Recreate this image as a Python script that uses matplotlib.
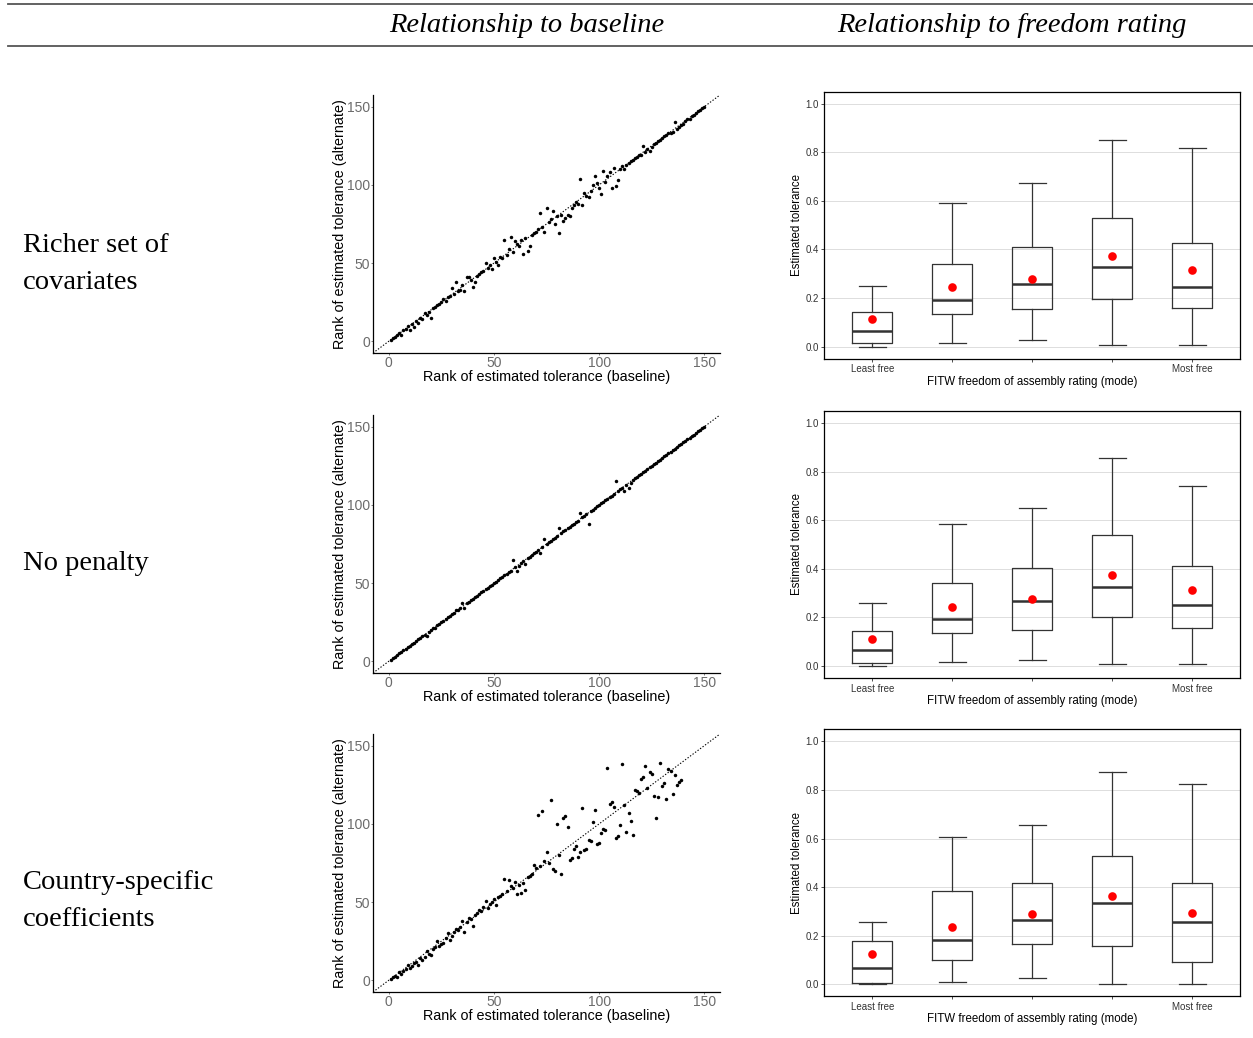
import matplotlib
matplotlib.use("Agg")
import matplotlib.pyplot as plt

# ---------------- data ----------------
ranks_150 = [1, 2, 3, 4, 5, 6, 7, 8, 9, 10, 11, 12, 13, 14, 15, 16, 17, 18, 19, 20,
             21, 22, 23, 24, 25, 26, 27, 28, 29, 30, 31, 32, 33, 34, 35, 36, 37, 38, 39, 40,
             41, 42, 43, 44, 45, 46, 47, 48, 49, 50, 51, 52, 53, 54, 55, 56, 57, 58, 59, 60,
             61, 62, 63, 64, 65, 66, 67, 68, 69, 70, 71, 72, 73, 74, 75, 76, 77, 78, 79, 80,
             81, 82, 83, 84, 85, 86, 87, 88, 89, 90, 91, 92, 93, 94, 95, 96, 97, 98, 99, 100,
             101, 102, 103, 104, 105, 106, 107, 108, 109, 110, 111, 112, 113, 114, 115, 116, 117, 118, 119, 120,
             121, 122, 123, 124, 125, 126, 127, 128, 129, 130, 131, 132, 133, 134, 135, 136, 137, 138, 139, 140,
             141, 142, 143, 144, 145, 146, 147, 148, 149, 150]

rich_base = ranks_150
rich_alt = [1, 2, 3, 4, 5, 4, 7, 8, 10, 7, 11, 9, 13, 12, 15, 14, 18, 17, 19, 15,
            21, 22, 23, 24, 25, 27,
            26, 28, 29, 34, 30, 38, 32, 33, 36, 32, 41, 41, 39, 35, 38, 42, 43, 44,
            45, 50, 47, 49, 46, 53, 51, 49, 54, 53, 65, 55, 59, 67, 57, 64, 62, 61, 65, 56, 66, 58, 61, 68, 69, 70,
            72, 82, 73, 70, 85, 76, 78, 83, 75, 80, 69, 81, 77, 79, 81, 80, 85, 87, 89, 88,
            104, 87, 95, 93, 92, 96, 100, 106, 101, 98, 94, 109, 102, 106, 108, 98, 111, 99, 103, 110, 112, 110,
            113, 114, 115, 116, 117, 118, 119, 119, 125, 121, 123, 122, 124, 126, 127, 128, 129, 130, 131, 132,
            133, 133, 134, 140, 136, 137, 138, 139, 141, 142, 142, 144, 145, 146, 147, 148, 149, 150]

nopen_base = ranks_150
nopen_alt = [1, 2, 3, 4, 5, 6, 7, 8, 9, 10,
             11, 12, 13, 14, 15, 16, 17, 16, 19, 20,
             21, 21, 23, 24, 25, 26, 27, 28, 29, 30,
             31, 33, 33, 34, 37, 34, 37, 38, 39, 40,
             41, 42, 43, 44, 45, 46, 47, 48, 49, 50,
             51, 52, 53, 54, 55, 56, 57, 58, 65, 60,
             58, 61, 63, 64, 62, 66, 67, 68, 69, 70,
             71, 69, 73, 78, 75, 76, 77, 78, 79, 80,
             85, 82, 83, 84, 85, 86, 87, 88, 89, 90,
             95, 92, 93, 94, 88, 96, 97, 98, 99, 100,
             101, 102, 103, 104, 105, 106, 107, 115, 109, 110,
             111, 109, 113, 111, 114, 116, 117, 118, 119, 120,
             121, 122, 123, 124, 125, 126, 127, 128, 129, 130,
             131, 132, 133, 134, 135, 136, 137, 138, 139, 140,
             141, 142, 143, 144, 145, 146, 147, 148, 149, 150]

country_base = ranks_150[:139]
country_alt = [1, 2, 3, 2, 5, 4, 6, 7, 10, 8,
               9, 11, 12, 10, 14, 13, 15, 19, 17, 16,
               20, 21, 25, 22, 23, 24, 27, 30, 26, 28,
               31, 33, 32, 34, 38, 31, 37, 40, 39, 35,
               42, 43, 45, 44, 47, 51, 46, 49, 50, 52,
               48, 53, 54, 55,
               65, 57, 64, 60, 59, 63,
               55, 61, 56, 62, 58, 66, 67, 68, 74, 72,
               106, 73, 108, 76, 82, 75, 115, 71, 70, 100,
               80, 68, 104, 105, 98, 77, 78, 84, 86, 79,
               82, 110, 83, 84, 90, 89, 101, 109, 87, 88,
               94, 97, 96, 136, 113, 114, 111, 91, 92, 99,
               138, 112, 95, 107, 102, 93, 122, 121, 120, 129,
               130, 137, 123, 133, 132, 118, 104, 117, 139, 124,
               126, 116, 135, 134, 119, 131, 125, 127, 128]

freedom_labels = ["Least free", "", "", "", "Most free"]

rich_lo = [0.000, 0.016, 0.026, 0.008, 0.008]
rich_q1 = [0.015, 0.136, 0.155, 0.196, 0.160]
rich_med = [0.063, 0.192, 0.259, 0.326, 0.246]
rich_q3 = [0.144, 0.340, 0.409, 0.530, 0.427]
rich_hi = [0.250, 0.591, 0.675, 0.849, 0.816]
rich_mean = [0.112, 0.244, 0.278, 0.372, 0.317]

nopen_lo = [0.000, 0.016, 0.026, 0.008, 0.008]
nopen_q1 = [0.010, 0.136, 0.147, 0.200, 0.158]
nopen_med = [0.064, 0.192, 0.266, 0.325, 0.251]
nopen_q3 = [0.144, 0.343, 0.403, 0.540, 0.410]
nopen_hi = [0.259, 0.583, 0.649, 0.857, 0.741]
nopen_mean = [0.111, 0.243, 0.277, 0.373, 0.314]

country_lo = [0.000, 0.008, 0.025, 0.000, 0.000]
country_q1 = [0.003, 0.100, 0.166, 0.158, 0.092]
country_med = [0.067, 0.180, 0.266, 0.333, 0.258]
country_q3 = [0.176, 0.384, 0.416, 0.528, 0.416]
country_hi = [0.258, 0.608, 0.657, 0.874, 0.826]
country_mean = [0.126, 0.235, 0.288, 0.362, 0.295]

row_labels = ["Richer set of\ncovariates", "No penalty", "Country-specific\ncoefficients"]
col_headers = ["Relationship to baseline", "Relationship to freedom rating"]

# ---------------- figure ----------------
W, H = 1253, 1038
fig = plt.figure(figsize=(W / 100, H / 100), dpi=100)
SANS = "Liberation Sans"
SERIF = "Liberation Serif"


def px_axes(l, t, r, b):
    return fig.add_axes([l / W, 1 - b / H, (r - l) / W, (b - t) / H])


def fx(x):
    return x / W


def fy(y):
    return 1 - y / H


# header rules and titles
fig.add_artist(plt.Line2D([fx(8), 1.0], [fy(4), fy(4)], color="#555555", lw=1.3))
fig.add_artist(plt.Line2D([fx(8), 1.0], [fy(46), fy(46)], color="#555555", lw=1.3))
fig.text(fx(527), fy(25), col_headers[0], ha="center", va="center",
         fontsize=20.5, style="italic", family=SERIF)
fig.text(fx(1012), fy(25), col_headers[1], ha="center", va="center",
         fontsize=20.5, style="italic", family=SERIF)

row_centers = [264, 563, 901]
for lab, yc in zip(row_labels, row_centers):
    fig.text(fx(23), fy(yc), lab, ha="left", va="center", fontsize=20.5,
             family=SERIF, linespacing=1.68)

scatter_sets = [(rich_base, rich_alt), (nopen_base, nopen_alt), (country_base, country_alt)]
scatter_off = [0, 320, 639]
for (xb, ya), off in zip(scatter_sets, scatter_off):
    ax = px_axes(373, 95 + off, 720, 353 + off)
    ax.axline((0, 0), slope=1, color="black", lw=0.8, ls=(0, (1.2, 1.6)))
    ax.plot(xb, ya, "o", color="black", ms=2.5, mew=0)
    ax.set_xlim(-7.5, 157.5)
    ax.set_ylim(-7.5, 157.5)
    ax.set_xticks([0, 50, 100, 150])
    ax.set_yticks([0, 50, 100, 150])
    for s in ["top", "right"]:
        ax.spines[s].set_visible(False)
    for s in ["left", "bottom"]:
        ax.spines[s].set_linewidth(0.9)
        ax.spines[s].set_color("black")
    ax.tick_params(length=1.5, width=0.6, pad=0.5, labelsize=10, labelcolor="#6b6b6b",
                   color="#6b6b6b")
    for t in ax.get_xticklabels() + ax.get_yticklabels():
        t.set_family(SANS)
    ax.set_xlabel("Rank of estimated tolerance (baseline)", fontsize=10.4,
                  family=SANS, labelpad=0)
    ax.set_ylabel("Rank of estimated tolerance (alternate)", fontsize=10.4,
                  family=SANS, labelpad=0)

box_sets = [
    (rich_lo, rich_q1, rich_med, rich_q3, rich_hi, rich_mean),
    (nopen_lo, nopen_q1, nopen_med, nopen_q3, nopen_hi, nopen_mean),
    (country_lo, country_q1, country_med, country_q3, country_hi, country_mean),
]
box_off = [0, 319.3, 637.6]
positions = [1, 2, 3, 4, 5]
for (lo, q1, med, q3, hi, mn), off in zip(box_sets, box_off):
    ax = px_axes(824.3, 91.7 + off, 1240.3, 358.7 + off)
    stats = []
    for i in range(len(positions)):
        stats.append(dict(whislo=lo[i], q1=q1[i], med=med[i], q3=q3[i], whishi=hi[i],
                          fliers=[]))
    ax.set_axisbelow(True)
    ax.grid(axis="y", color="#dddddd", lw=0.7)
    lc = "#333333"
    ax.bxp(stats, positions=positions, widths=0.5, capwidths=0.34, showfliers=False,
           boxprops=dict(color=lc, lw=0.9),
           whiskerprops=dict(color=lc, lw=0.9),
           capprops=dict(color=lc, lw=0.9),
           medianprops=dict(color=lc, lw=1.8))
    ax.plot(positions, mn, "o", color="#ff0000", ms=6.2, mew=0, zorder=5)
    ax.set_xlim(0.4, 5.6)
    ax.set_ylim(-0.05, 1.05)
    ax.set_yticks([0.0, 0.2, 0.4, 0.6, 0.8, 1.0])
    ax.set_yticklabels(["0.0", "0.2", "0.4", "0.6", "0.8", "1.0"])
    ax.set_xticks(positions)
    ax.set_xticklabels(freedom_labels)
    for s in ax.spines.values():
        s.set_linewidth(0.9)
        s.set_color("black")
    ax.tick_params(length=2.5, width=0.6, pad=1.5, labelsize=7, labelcolor="#333333",
                   color="#333333")
    for t in ax.get_xticklabels() + ax.get_yticklabels():
        t.set_family(SANS)
    ax.set_xlabel("FITW freedom of assembly rating (mode)", fontsize=8.3,
                  family=SANS, labelpad=1)
    ax.set_ylabel("Estimated tolerance", fontsize=8.3, family=SANS, labelpad=1.5)

fig.savefig("out.png", dpi=100)
